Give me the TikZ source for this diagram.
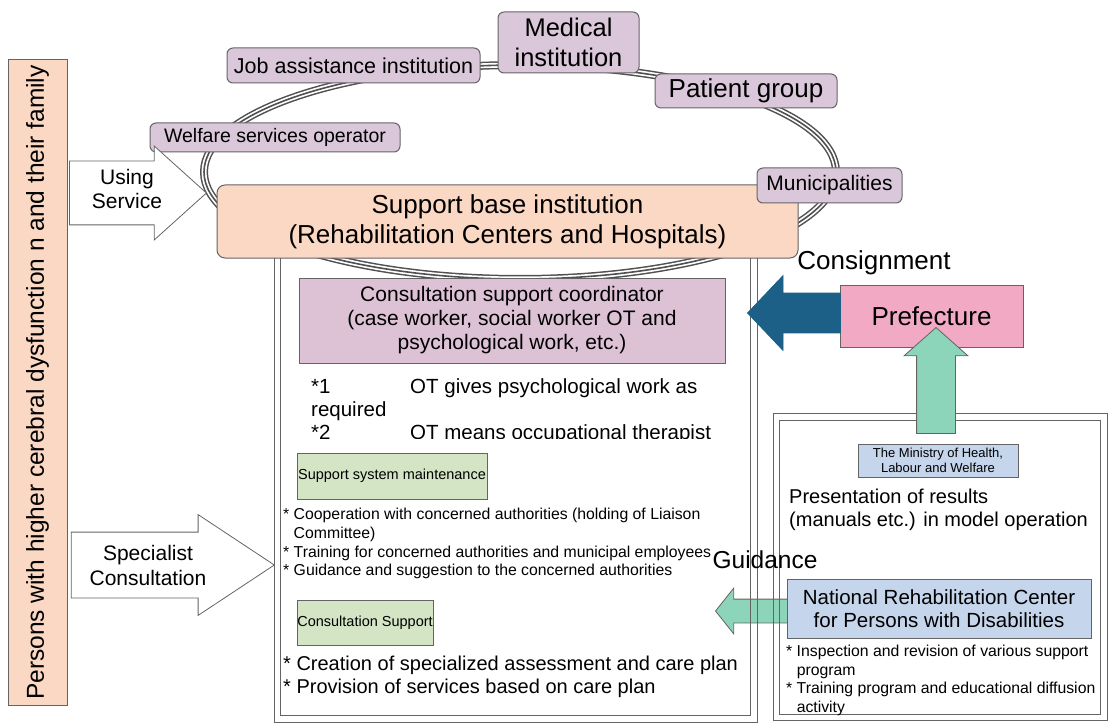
\documentclass[tikz,border=0pt]{standalone}
\usepackage{fontspec}
\setmainfont{Liberation Sans}
\usepackage{tikz}
\usetikzlibrary{shapes.arrows}

\definecolor{linegray}{RGB}{100,100,100}
\definecolor{ringgray}{RGB}{80,80,80}
\definecolor{peach}{RGB}{250,216,196}
\definecolor{ringpurple}{RGB}{218,200,218}
\definecolor{coordpurple}{RGB}{221,194,214}
\definecolor{leafgreen}{RGB}{212,229,197}
\definecolor{prefpink}{RGB}{242,170,196}
\definecolor{lightteal}{RGB}{140,212,186}
\definecolor{darkteal}{RGB}{28,96,136}
\definecolor{paleblue}{RGB}{197,213,236}

\begin{document}
\begin{tikzpicture}[x=1pt,y=1pt,
  every node/.style={inner sep=0pt},
  ringbox/.style={draw=linegray, fill=ringpurple, rounded corners=6pt, line width=1pt, align=center},
  plainbox/.style={draw=linegray, line width=1pt, align=center},
  frameline/.style={draw=linegray, line width=1pt},
  ring/.style={draw=ringgray, line width=1.6pt,
    preaction={draw=ringgray, line width=8pt},
    preaction={draw=white, line width=5pt}},
  blockarrow/.style={single arrow, draw=linegray, line width=0.8pt, single arrow head indent=0pt, anchor=tip},
  textblock/.style={anchor=north west, align=left}]
\useasboundingbox (0,0) rectangle (1110,-727);

\node[plainbox, fill=peach, rotate=90, minimum width=645pt, minimum height=59pt,
  font=\fontsize{24.5}{28}\selectfont] (persons) at (37.5,-382.5)
  {Persons with higher cerebral dysfunction n and their family};

\node[blockarrow, fill=lightteal, shape border rotate=180, inner sep=11.5pt, minimum height=72pt,
  minimum width=45pt, single arrow head extend=11pt, single arrow tip angle=103] (guidarrow) at (715,-611) {};

\node[frameline, minimum width=483pt, minimum height=485pt] (mainout) at (515.5,-479.5) {};
\node[frameline, minimum width=470pt, minimum height=472pt] (mainin) at (515,-479) {};
\node[frameline, minimum width=334pt, minimum height=307pt] (rightout) at (940,-566.5) {};
\node[frameline, minimum width=321pt, minimum height=294pt] (rightin) at (939.5,-567) {};

\draw[ring] (520,-172) ellipse (316 and 107);

\node[ringbox, minimum width=253pt, minimum height=35pt, font=\fontsize{21.5}{24}\selectfont]
  (jobinst) at (353.5,-65.5) {Job assistance institution};
\node[ringbox, minimum width=141pt, minimum height=61pt, font=\fontsize{25.5}{30}\selectfont]
  (medinst) at (568.5,-42.5) {Medical\\institution};
\node[ringbox, minimum width=182pt, minimum height=34pt, font=\fontsize{26}{30}\selectfont]
  (patient) at (746,-91) {Patient group};
\node[ringbox, minimum width=250pt, minimum height=29pt, font=\fontsize{19.5}{22}\selectfont]
  (welfare) at (275,-137.5) {Welfare services operator};

\node[plainbox, fill=peach, rounded corners=8pt, minimum width=581pt, minimum height=73pt,
  font=\fontsize{26}{30}\selectfont] (supbase) at (507.5,-221.5)
  {Support base institution\\(Rehabilitation Centers and Hospitals)};
\node[ringbox, minimum width=145pt, minimum height=35pt, font=\fontsize{21}{24}\selectfont]
  (munic) at (829.5,-185.5) {Municipalities};

\node[blockarrow, fill=white, inner sep=31.5pt, minimum height=137pt, minimum width=93pt,
  single arrow head extend=15pt, single arrow tip angle=84] (usearrow) at (207,-193) {};
\node[align=center, font=\fontsize{21}{24}\selectfont] (usetext) at (127,-189) {Using\\Service};
\node[blockarrow, fill=white, inner sep=32.5pt, minimum height=203pt, minimum width=100pt,
  single arrow head extend=17.5pt, single arrow tip angle=67] (specarrow) at (275,-565) {};
\node[align=center, font=\fontsize{21}{25}\selectfont] (spectext) at (148,-565) {Specialist\\Consultation};

\node[plainbox, fill=coordpurple, minimum width=426pt, minimum height=85pt,
  font=\fontsize{21}{24}\selectfont] (coord) at (512,-320.5)
  {Consultation support coordinator\\(case worker, social worker OT and\\psychological work, etc.)};

\begin{scope}
\clip (280,-370) rectangle (750,-438);
\node[textblock, font=\fontsize{20.5}{23}\selectfont] (notes) at (311,-378)
  {\makebox[99pt][l]{*1}OT gives psychological work as\\required\\\makebox[99pt][l]{*2}OT means occupational therapist};
\end{scope}

\node[plainbox, fill=leafgreen, minimum width=190pt, minimum height=46pt,
  font=\fontsize{14.5}{17}\selectfont] (sysmaint) at (392,-476) {Support system maintenance};
\node[textblock, font=\fontsize{15.8}{18.7}\selectfont] (sysnotes) at (283,-508)
  {* Cooperation with concerned authorities (holding of Liaison\\
   \phantom{*}\ Committee)\\
   * Training for concerned authorities and municipal employees\\
   * Guidance and suggestion to the concerned authorities};

\node[plainbox, fill=leafgreen, minimum width=136pt, minimum height=45pt,
  font=\fontsize{14.5}{17}\selectfont] (conssup) at (365,-622.5) {Consultation Support};
\node[textblock, font=\fontsize{20}{22.5}\selectfont] (carenotes) at (283,-656)
  {* Creation of specialized assessment and care plan\\
   * Provision of services based on care plan};

\node[plainbox, fill=prefpink, minimum width=183pt, minimum height=62pt,
  font=\fontsize{26}{30}\selectfont] (pref) at (931.5,-316) {Prefecture};
\node[blockarrow, fill=darkteal, draw=darkteal, shape border rotate=180, inner sep=19.5pt,
  minimum height=93pt, minimum width=74pt, single arrow head extend=17.5pt,
  single arrow tip angle=93] (consarrow) at (747,-313) {};
\node[font=\fontsize{26}{30}\selectfont] (consign) at (874,-263) {Consignment};

\node[blockarrow, fill=lightteal, shape border rotate=90, inner sep=19pt, minimum height=106pt,
  minimum width=63pt, single arrow head extend=12.5pt, single arrow tip angle=97] (uparrow) at (936,-327) {};

\node[plainbox, fill=paleblue, minimum width=160pt, minimum height=33pt,
  font=\fontsize{13}{15}\selectfont] (ministry) at (938,-460.5)
  {The Ministry of Health,\\Labour and Welfare};
\node[textblock, font=\fontsize{20}{22.5}\selectfont] (results) at (789,-489)
  {Presentation of results\\(manuals etc.) in model operation};

\node[font=\fontsize{24.5}{28}\selectfont] (guid) at (765,-560) {Guidance};
\node[plainbox, fill=paleblue, minimum width=304pt, minimum height=59pt,
  font=\fontsize{20.5}{23}\selectfont] (national) at (939,-608.5)
  {National Rehabilitation Center\\for Persons with Disabilities};
\node[textblock, font=\fontsize{15.8}{18.6}\selectfont] (natnotes) at (786,-645)
  {* Inspection and revision of various support\\
   \phantom{*}\ program\\
   * Training program and educational diffusion\\
   \phantom{*}\ activity};
\end{tikzpicture}
\end{document}
